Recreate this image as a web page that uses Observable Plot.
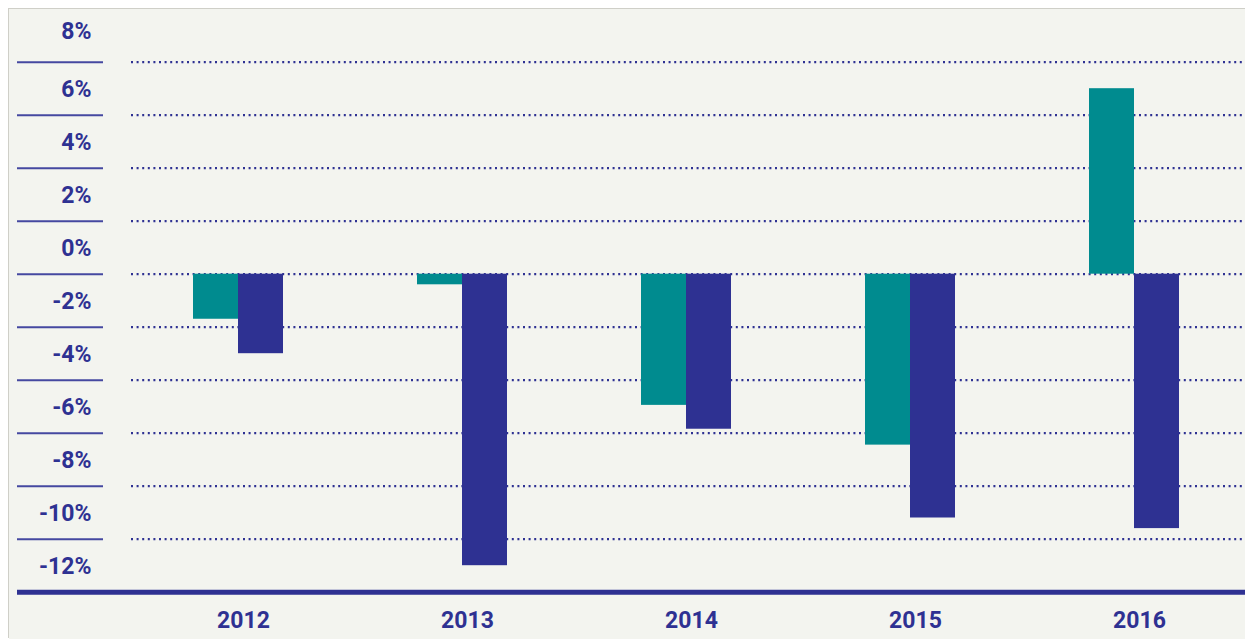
<!DOCTYPE html>
<html>
<head>
<meta charset="utf-8">
<script src="https://cdn.jsdelivr.net/npm/d3@7"></script>
<script src="https://cdn.jsdelivr.net/npm/@observablehq/plot@0.6"></script>
<style>
  html, body { margin: 0; padding: 0; background: #ffffff; overflow: hidden; width: 1245px; height: 639px; }
  #panel { position: absolute; left: 9px; top: 9px; width: 1242px; height: 630px; background: #f3f4ef;
           box-shadow: -1px -1px 0 #cfcfc8; }
  #panel svg { display: block; }
</style>
</head>
<body>
<div id="panel"></div>
<script>
// ---- data ----
const years = ["2012", "2013", "2014", "2015", "2016"];
const seriesNames = ["A", "B"];
const seriesA = [-1.7, -0.4, -4.95, -6.45, 7.0];   // teal bars
const seriesB = [-3.0, -11.0, -5.85, -9.2, -9.6];  // navy bars
const yTicks = [8, 6, 4, 2, 0, -2, -4, -6, -8, -10, -12];

const teal = "#008b8f";
const navy = "#2e3192";

const data = years.flatMap((y, i) => [
  {year: y, series: seriesNames[0], value: seriesA[i]},
  {year: y, series: seriesNames[1], value: seriesB[i]}
]);

const fmt = d => d + "%";

const chart = Plot.plot({
  width: 1242,
  height: 630,
  marginLeft: 122,
  marginRight: 0,
  marginTop: 52.7,
  marginBottom: 47.3,
  style: {background: "transparent", fontFamily: "Roboto, 'Open Sans', sans-serif", color: navy, overflow: "visible"},
  fx: {domain: years, padding: 0, label: null},
  x: {domain: seriesNames, paddingInner: 0, paddingOuter: 1.4615, align: 0.466, axis: null},
  y: {domain: [-12, 8]},
  color: {domain: seriesNames, range: [teal, navy]},
  marks: [
    Plot.gridY(yTicks.filter(d => d > -12), {stroke: navy, strokeOpacity: 1, strokeWidth: 2.2, strokeDasharray: "2,3.6"}),
    Plot.barY(data, {fx: "year", x: "series", y: "value", fill: "series"}),
    Plot.ruleY([-12], {stroke: navy, strokeWidth: 5}),
    // left solid separators
    Plot.axisY(yTicks.filter(d => d > -12), {anchor: "left", tickSize: 86, dx: -28, stroke: "#4548a0", strokeWidth: 2, fill: "none", label: null}),
    Plot.axisY([-12], {anchor: "left", tickSize: 114, stroke: navy, strokeWidth: 5, fill: "none", label: null}),
    // labels
    Plot.axisY(yTicks.filter(d => d !== 8), {anchor: "left", tickSize: 0, tickPadding: 40, dy: -26, fontSize: 23, fontWeight: "bold", fill: navy, tickFormat: fmt, label: null}),
    Plot.axisY([8], {anchor: "left", tickSize: 0, tickPadding: 40, dy: -31, fontSize: 23, fontWeight: "bold", fill: navy, tickFormat: fmt, label: null}),
    Plot.axisFx({anchor: "bottom", tickSize: 0, tickPadding: 19, fontSize: 23, fontWeight: "bold", fill: navy, label: null})
  ]
});

document.getElementById("panel").appendChild(chart);
</script>
</body>
</html>
